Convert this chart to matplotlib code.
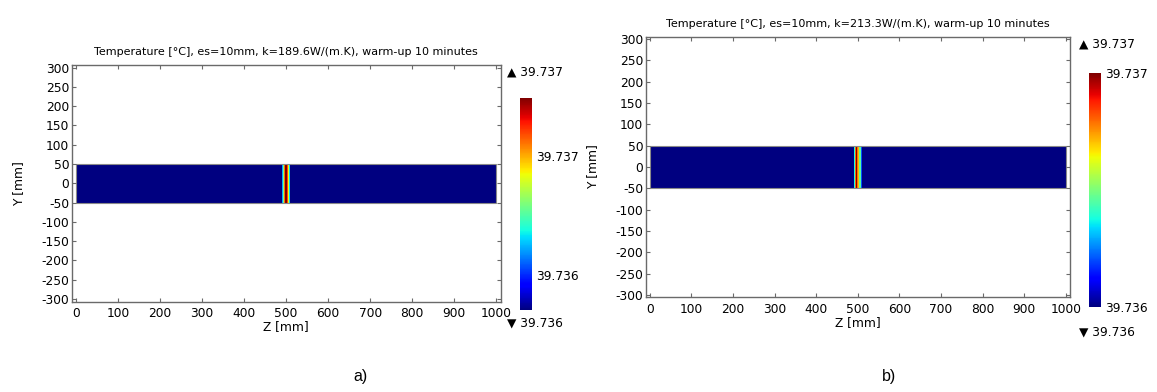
import numpy as np
import matplotlib
matplotlib.use("Agg")
import matplotlib.pyplot as plt
from matplotlib.patches import Rectangle

# domain of the plate (mm)
Z_RANGE = (0, 1000)
Y_RANGE = (-50, 50)

# temperature profile across z (cell edges in mm, cell values in degC)
Z_EDGES = [0, 490, 493, 496, 498.5, 501.5, 504, 507, 510, 1000]
T_A = [39.73605, 39.73640, 39.73665, 39.73700, 39.73725, 39.73705, 39.73680, 39.73645, 39.73605]
T_B = [39.73605, 39.73650, 39.73700, 39.73725, 39.73700, 39.73690, 39.73660, 39.73630, 39.73605]
T_MIN, T_MAX = 39.73605, 39.73725

TITLES = ["Temperature [°C], es=10mm, k=189.6W/(m.K), warm-up 10 minutes",
          "Temperature [°C], es=10mm, k=213.3W/(m.K), warm-up 10 minutes"]
CB_TICKS_A = [39.73625, 39.73692]
CB_TICKS_B = [T_MIN, T_MAX]
CB_LABELS = ["39.736", "39.737"]
PANEL_TAGS = ["a)", "b)"]

W, H = 1157, 392
SPINE = "#6a6a6a"
FS = 8
TFS = 8.8

plt.rcParams["font.family"] = "DejaVu Sans"
plt.rcParams["axes.unicode_minus"] = False
fig = plt.figure(figsize=(W / 100, H / 100), dpi=100)


def fx(px):
    return px / W


def fy(py):
    return 1 - py / H


def panel(box, cbox, temps, title, cticks, tri_up, tri_dn, ylim):
    l, t, r, b = box
    ax = fig.add_axes([fx(l), fy(b), fx(r - l), fy(t) - fy(b)])
    mesh = ax.pcolormesh(Z_EDGES, list(Y_RANGE), np.array([temps]), cmap="jet",
                         vmin=T_MIN, vmax=T_MAX, shading="flat")
    ax.add_patch(Rectangle((Z_RANGE[0], Y_RANGE[0]), Z_RANGE[1] - Z_RANGE[0],
                           Y_RANGE[1] - Y_RANGE[0], fill=False, ec="#8a8a8a", lw=0.8))
    ax.set_xlim(-9, 1010)
    ax.set_ylim(-ylim, ylim)
    ax.set_xticks(range(0, 1001, 100))
    ax.set_yticks(range(-300, 301, 50))
    ax.tick_params(direction="in", length=3, width=0.8, color=SPINE, labelsize=TFS,
                   top=True, right=True, pad=2)
    ax.tick_params(axis="x", pad=4)
    for s in ax.spines.values():
        s.set_color(SPINE)
        s.set_linewidth(1.0)
    ax.set_xlabel("Z [mm]", fontsize=TFS, labelpad=0)
    ax.set_ylabel("Y [mm]", fontsize=TFS, labelpad=12)
    ax.set_title(title, fontsize=FS, pad=7)

    cl, ct, cr, cb = cbox
    cax = fig.add_axes([fx(cl), fy(cb), fx(cr - cl), fy(ct) - fy(cb)])
    cbar = fig.colorbar(mesh, cax=cax)
    cbar.outline.set_visible(False)
    cbar.set_ticks(cticks)
    cbar.set_ticklabels(CB_LABELS)
    cbar.ax.tick_params(length=0, labelsize=TFS, pad=3)
    fig.text(fx(tri_up[0]), fy(tri_up[1]), "▲ 39.737", fontsize=TFS, va="center")
    fig.text(fx(tri_dn[0]), fy(tri_dn[1]), "▼ 39.736", fontsize=TFS, va="center")
    return ax


panel((72, 65, 500.5, 301.5), (520, 98, 532, 310), T_A, TITLES[0], CB_TICKS_A,
      (507, 72), (507, 323), 307)
panel((646, 37, 1070, 297), (1089, 73, 1101, 307), T_B, TITLES[1], CB_TICKS_B,
      (1079, 44), (1079, 332), 305)

fig.text(fx(361), fy(376), PANEL_TAGS[0], fontsize=11.5, family="Liberation Sans",
         ha="center", va="center")
fig.text(fx(889), fy(376), PANEL_TAGS[1], fontsize=11.5, family="Liberation Sans",
         ha="center", va="center")

fig.savefig("out.png", dpi=100)
